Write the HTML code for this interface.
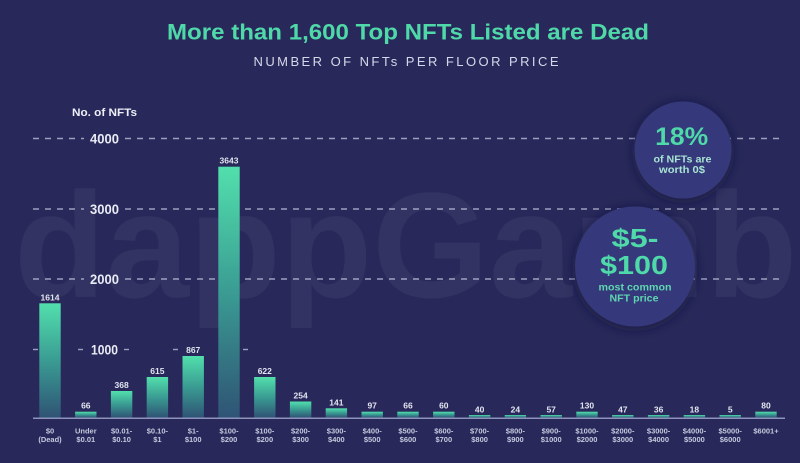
<!DOCTYPE html>
<html>
<head>
<meta charset="utf-8">
<style>
  html, body { margin: 0; padding: 0; background: #28295a; }
  body { width: 800px; height: 463px; overflow: hidden; }
  svg { display: block; font-family: "Liberation Sans", "DejaVu Sans", sans-serif; }
</style>
</head>
<body>
<svg width="800" height="463" viewBox="0 0 800 463" xmlns="http://www.w3.org/2000/svg">
  <defs>
    <linearGradient id="bar" x1="0" y1="0" x2="0" y2="1">
      <stop offset="0" stop-color="#52dfac"/>
      <stop offset="0.5" stop-color="#3a9c93"/>
      <stop offset="1" stop-color="#2f5475"/>
    </linearGradient>
    <filter id="shadow" x="-40%" y="-40%" width="180%" height="180%">
      <feGaussianBlur in="SourceAlpha" stdDeviation="6"/>
      <feOffset dx="0" dy="2" result="b"/>
      <feFlood flood-color="#15163a" flood-opacity="0.75"/>
      <feComposite in2="b" operator="in"/>
      <feMerge><feMergeNode/><feMergeNode in="SourceGraphic"/></feMerge>
    </filter>
  </defs>

  <rect x="0" y="0" width="800" height="463" fill="#28295a"/>

  <!-- watermark -->
  <text x="14" y="297" font-size="150" font-weight="bold" fill="#ffffff" fill-opacity="0.05">dappGambl</text>

  <!-- title -->
  <text x="408" y="39.5" text-anchor="middle" font-size="22" font-weight="bold" fill="#4fd9a9" textLength="482" lengthAdjust="spacingAndGlyphs">More than 1,600 Top NFTs Listed are Dead</text>
  <text x="406" y="66" text-anchor="middle" font-size="13" fill="#d5d8ea" textLength="305" lengthAdjust="spacing">NUMBER OF NFTs PER FLOOR PRICE</text>

  <text x="104.5" y="116" text-anchor="middle" font-size="11" font-weight="bold" fill="#eef0f8" textLength="65" lengthAdjust="spacingAndGlyphs">No. of NFTs</text>

  <!-- gridlines -->
  <g stroke="#c3c7e0" stroke-opacity="0.75" stroke-width="1.4" stroke-dasharray="6 6">
    <line x1="33" y1="138.5" x2="84" y2="138.5"/>
    <line x1="125" y1="138.5" x2="785" y2="138.5"/>
    <line x1="33" y1="209" x2="84" y2="209"/>
    <line x1="125" y1="209" x2="785" y2="209"/>
    <line x1="33" y1="279" x2="84" y2="279"/>
    <line x1="125" y1="279" x2="785" y2="279"/>
  </g>
  <g stroke="#c3c7e0" stroke-opacity="0.75" stroke-width="1.4">
    <line x1="33" y1="349.5" x2="38" y2="349.5"/>
    <line x1="78" y1="349.5" x2="83" y2="349.5"/>
    <line x1="124" y1="349.5" x2="129" y2="349.5"/>
    <line x1="173" y1="349.5" x2="178" y2="349.5"/>
    <line x1="243" y1="349.5" x2="248" y2="349.5"/>
  </g>
  <g font-size="13.5" font-weight="bold" fill="#e8eaf4" text-anchor="middle">
    <text x="104.5" y="143.5" textLength="29" lengthAdjust="spacingAndGlyphs">4000</text>
    <text x="104.5" y="214" textLength="29" lengthAdjust="spacingAndGlyphs">3000</text>
    <text x="104.5" y="284" textLength="29" lengthAdjust="spacingAndGlyphs">2000</text>
    <text x="104.5" y="354.5" textLength="27" lengthAdjust="spacingAndGlyphs">1000</text>
  </g>

  <!-- bars -->
  <g fill="url(#bar)">
    <rect x="39.3" y="303.3" width="21.4" height="114.2"/>
    <rect x="75.1" y="411.7" width="21.4" height="5.8"/>
    <rect x="110.9" y="391" width="21.4" height="26.5"/>
    <rect x="146.7" y="377" width="21.4" height="40.5"/>
    <rect x="182.5" y="356" width="21.4" height="61.5"/>
    <rect x="218.3" y="166.7" width="21.4" height="250.8"/>
    <rect x="254.1" y="377" width="21.4" height="40.5"/>
    <rect x="289.9" y="401.5" width="21.4" height="16"/>
    <rect x="325.7" y="408.3" width="21.4" height="9.2"/>
    <rect x="361.5" y="411.7" width="21.4" height="5.8"/>
    <rect x="397.3" y="411.7" width="21.4" height="5.8"/>
    <rect x="433.1" y="411.7" width="21.4" height="5.8"/>
    <rect x="468.9" y="415" width="21.4" height="2.5"/>
    <rect x="504.7" y="415" width="21.4" height="2.5"/>
    <rect x="540.5" y="415" width="21.4" height="2.5"/>
    <rect x="576.3" y="411.7" width="21.4" height="5.8"/>
    <rect x="612.1" y="415" width="21.4" height="2.5"/>
    <rect x="647.9" y="415" width="21.4" height="2.5"/>
    <rect x="683.7" y="415" width="21.4" height="2.5"/>
    <rect x="719.5" y="415" width="21.4" height="2.5"/>
    <rect x="755.3" y="411.7" width="21.4" height="5.8"/>
  </g>

  <!-- bar labels -->
  <g font-size="8.5" font-weight="bold" fill="#e2e4f0" text-anchor="middle">
    <text x="50" y="300.3">1614</text>
    <text x="85.8" y="408.7">66</text>
    <text x="121.6" y="388">368</text>
    <text x="157.4" y="374">615</text>
    <text x="193.2" y="353">867</text>
    <text x="229" y="163.7">3643</text>
    <text x="264.8" y="374">622</text>
    <text x="300.6" y="398.5">254</text>
    <text x="336.4" y="405.3">141</text>
    <text x="372.2" y="408.7">97</text>
    <text x="408" y="408.7">66</text>
    <text x="443.8" y="408.7">60</text>
    <text x="479.6" y="412.3">40</text>
    <text x="515.4" y="412.3">24</text>
    <text x="551.2" y="412.3">57</text>
    <text x="587" y="408.7">130</text>
    <text x="622.8" y="412.3">47</text>
    <text x="658.6" y="412.3">36</text>
    <text x="694.4" y="412.3">18</text>
    <text x="730.2" y="412.3">5</text>
    <text x="766" y="408.7">80</text>
  </g>

  <!-- baseline -->
  <line x1="33" y1="418.2" x2="785" y2="418.2" stroke="#8d92bb" stroke-width="1.5"/>

  <!-- x labels -->
  <g font-size="7.5" font-weight="bold" fill="#c5c8de" text-anchor="middle">
    <text x="50" y="433.5">$0</text><text x="50" y="442">(Dead)</text>
    <text x="85.8" y="433.5">Under</text><text x="85.8" y="442">$0.01</text>
    <text x="121.6" y="433.5">$0.01-</text><text x="121.6" y="442">$0.10</text>
    <text x="157.4" y="433.5">$0.10-</text><text x="157.4" y="442">$1</text>
    <text x="193.2" y="433.5">$1-</text><text x="193.2" y="442">$100</text>
    <text x="229" y="433.5">$100-</text><text x="229" y="442">$200</text>
    <text x="264.8" y="433.5">$100-</text><text x="264.8" y="442">$200</text>
    <text x="300.6" y="433.5">$200-</text><text x="300.6" y="442">$300</text>
    <text x="336.4" y="433.5">$300-</text><text x="336.4" y="442">$400</text>
    <text x="372.2" y="433.5">$400-</text><text x="372.2" y="442">$500</text>
    <text x="408" y="433.5">$500-</text><text x="408" y="442">$600</text>
    <text x="443.8" y="433.5">$600-</text><text x="443.8" y="442">$700</text>
    <text x="479.6" y="433.5">$700-</text><text x="479.6" y="442">$800</text>
    <text x="515.4" y="433.5">$800-</text><text x="515.4" y="442">$900</text>
    <text x="551.2" y="433.5">$900-</text><text x="551.2" y="442">$1000</text>
    <text x="587" y="433.5">$1000-</text><text x="587" y="442">$2000</text>
    <text x="622.8" y="433.5">$2000-</text><text x="622.8" y="442">$3000</text>
    <text x="658.6" y="433.5">$3000-</text><text x="658.6" y="442">$4000</text>
    <text x="694.4" y="433.5">$4000-</text><text x="694.4" y="442">$5000</text>
    <text x="730.2" y="433.5">$5000-</text><text x="730.2" y="442">$6000</text>
    <text x="766" y="433.5">$6001+</text>
  </g>

  <!-- circles -->
  <circle cx="683" cy="150" r="48.5" fill="#34377a" filter="url(#shadow)"/>
  <circle cx="635" cy="266.5" r="60" fill="#34377a" filter="url(#shadow)"/>

  <g text-anchor="middle" font-weight="bold">
    <text x="681.7" y="145" font-size="25" fill="#4fd9a9" textLength="53" lengthAdjust="spacingAndGlyphs">18%</text>
    <text x="682.5" y="162.5" font-size="10.5" fill="#a8e3d3" textLength="58" lengthAdjust="spacingAndGlyphs">of NFTs are</text>
    <text x="682" y="173" font-size="10.5" fill="#a8e3d3" textLength="46" lengthAdjust="spacingAndGlyphs">worth 0$</text>

    <text x="635" y="247" font-size="26" fill="#4fd9a9" textLength="47" lengthAdjust="spacingAndGlyphs">$5-</text>
    <text x="634" y="274" font-size="26" fill="#4fd9a9" textLength="68" lengthAdjust="spacingAndGlyphs">$100</text>
    <text x="635" y="290.5" font-size="10.5" fill="#5fd6b2" textLength="73" lengthAdjust="spacingAndGlyphs">most common</text>
    <text x="634" y="301.5" font-size="10.5" fill="#5fd6b2" textLength="49" lengthAdjust="spacingAndGlyphs">NFT price</text>
  </g>
</svg>
</body>
</html>
